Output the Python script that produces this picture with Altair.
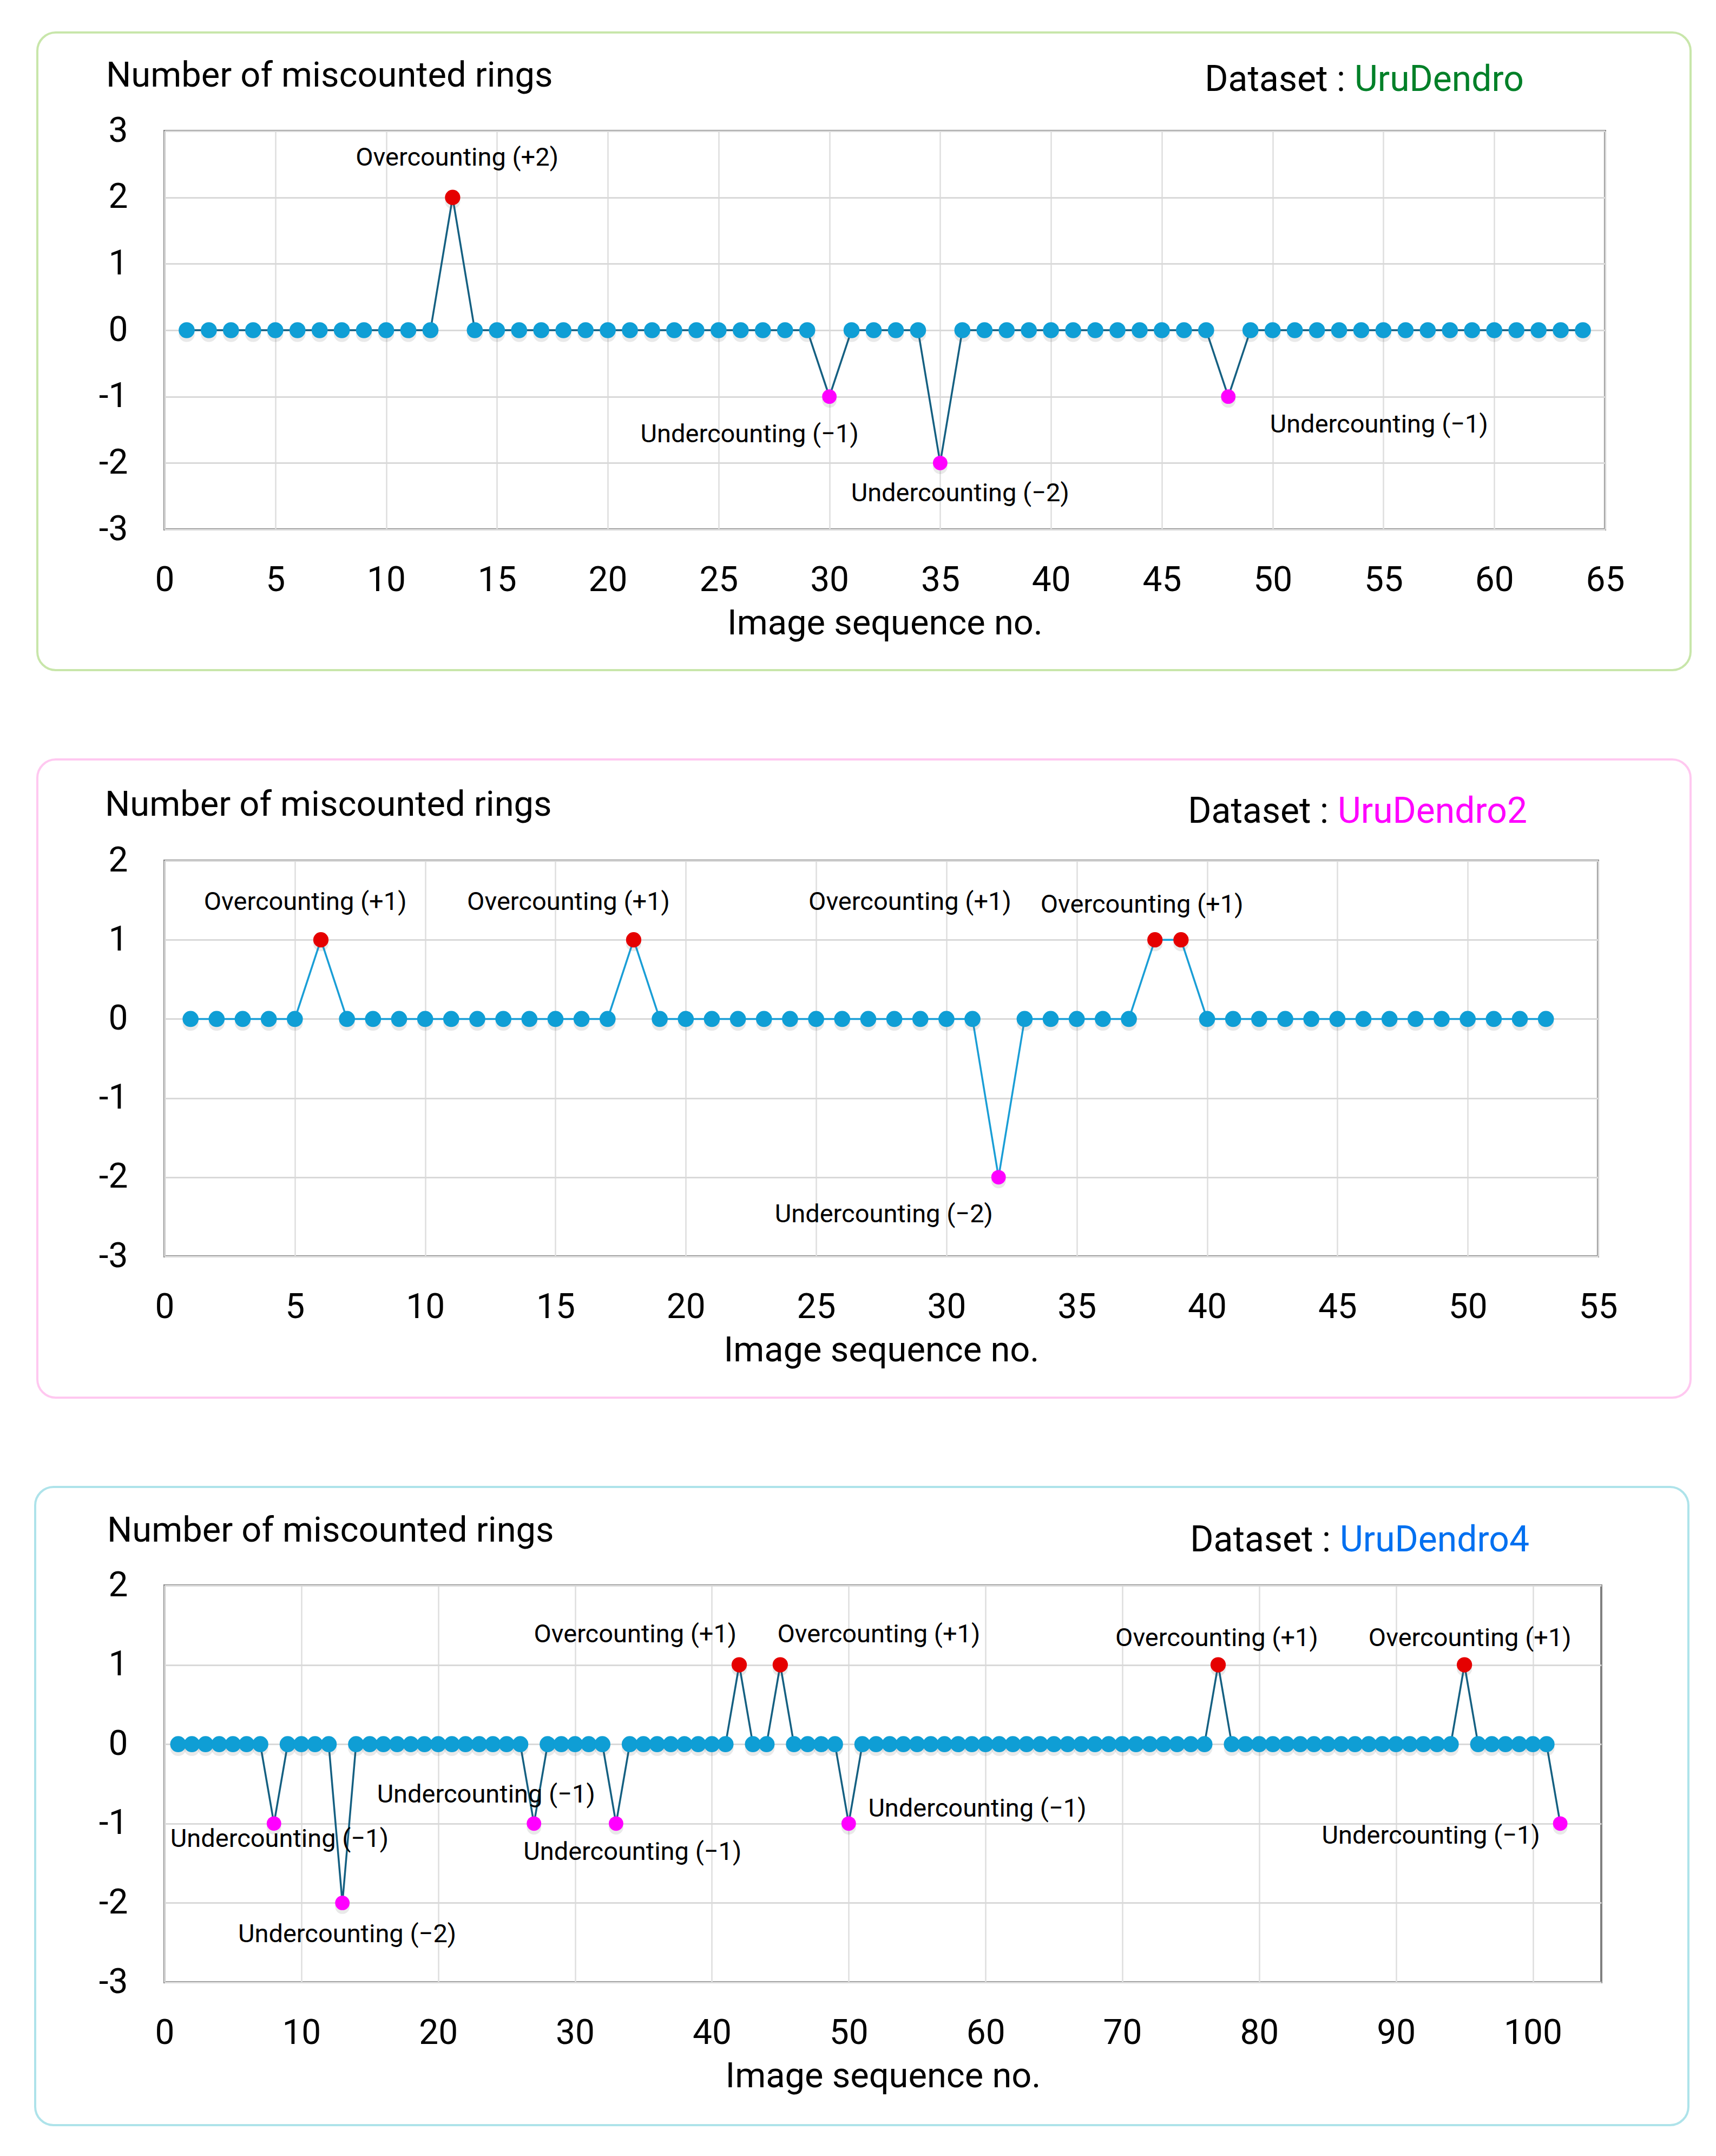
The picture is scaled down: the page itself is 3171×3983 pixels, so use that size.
import altair as alt
import pandas as pd

FONT = "Roboto"

# ---------------- data ----------------
# Panel 1 : UruDendro (images 1..64)
p1_seq = list(range(1, 65))
p1_miss = [0, 0, 0, 0, 0, 0, 0, 0, 0, 0,
           0, 0, 2, 0, 0, 0, 0, 0, 0, 0,
           0, 0, 0, 0, 0, 0, 0, 0, 0, -1,
           0, 0, 0, 0, -2, 0, 0, 0, 0, 0,
           0, 0, 0, 0, 0, 0, 0, -1, 0, 0,
           0, 0, 0, 0, 0, 0, 0, 0, 0, 0,
           0, 0, 0, 0]
p1_ann_text = ["Overcounting (+2)", "Undercounting (\u22121)", "Undercounting (\u22122)", "Undercounting (\u22121)"]
p1_ann_x = [13.2, 26.4, 35.9, 54.8]
p1_ann_y = [2.59, -1.57, -2.46, -1.43]

# Panel 2 : UruDendro2 (images 1..53)
p2_seq = list(range(1, 54))
p2_miss = [0, 0, 0, 0, 0, 1, 0, 0, 0, 0,
           0, 0, 0, 0, 0, 0, 0, 1, 0, 0,
           0, 0, 0, 0, 0, 0, 0, 0, 0, 0,
           0, -2, 0, 0, 0, 0, 0, 1, 1, 0,
           0, 0, 0, 0, 0, 0, 0, 0, 0, 0,
           0, 0, 0]
p2_ann_text = ["Overcounting (+1)", "Overcounting (+1)", "Overcounting (+1)", "Overcounting (+1)", "Undercounting (\u22122)"]
p2_ann_x = [5.4, 15.5, 28.6, 37.5, 27.6]
p2_ann_y = [1.47, 1.47, 1.47, 1.44, -2.47]

# Panel 3 : UruDendro4 (images 1..102)
p3_seq = list(range(1, 103))
p3_miss = [0, 0, 0, 0, 0, 0, 0, -1, 0, 0,
           0, 0, -2, 0, 0, 0, 0, 0, 0, 0,
           0, 0, 0, 0, 0, 0, -1, 0, 0, 0,
           0, 0, -1, 0, 0, 0, 0, 0, 0, 0,
           0, 1, 0, 0, 1, 0, 0, 0, 0, -1,
           0, 0, 0, 0, 0, 0, 0, 0, 0, 0,
           0, 0, 0, 0, 0, 0, 0, 0, 0, 0,
           0, 0, 0, 0, 0, 0, 1, 0, 0, 0,
           0, 0, 0, 0, 0, 0, 0, 0, 0, 0,
           0, 0, 0, 0, 1, 0, 0, 0, 0, 0,
           0, -1]
p3_ann_text = ["Overcounting (+1)", "Overcounting (+1)", "Overcounting (+1)", "Overcounting (+1)",
               "Undercounting (\u22121)", "Undercounting (\u22122)", "Undercounting (\u22121)",
               "Undercounting (\u22121)", "Undercounting (\u22121)", "Undercounting (\u22121)"]
p3_ann_x = [34.4, 52.2, 76.9, 95.4, 8.4, 13.35, 23.5, 34.2, 59.4, 92.55]
p3_ann_y = [1.38, 1.38, 1.33, 1.33, -1.20, -2.40, -0.64, -1.36, -0.82, -1.16]

BLUE = "#0f9ed5"
RED = "#e50000"
MAGENTA = "#ff00ff"


def panel(seq, miss, ann_text, ann_x, ann_y, xmax, xticks, ymin, ymax, W, H,
          box_color, box_l, box_r, box_t, box_b,
          title_xy, name, name_color, name_x, name_y,
          line_color, pt_size, hi_size):
    df = pd.DataFrame({"seq": seq, "miss": miss})
    df["kind"] = ["over" if v > 0 else ("under" if v < 0 else "zero") for v in miss]
    xscale = alt.Scale(domain=[0, xmax], nice=False, zero=False)
    yscale = alt.Scale(domain=[ymin, ymax], nice=False, zero=False)
    xenc = alt.X("seq:Q", scale=xscale,
                 axis=alt.Axis(values=xticks, title="Image sequence no.", grid=True,
                               gridColor="#dedede", gridWidth=2.5, labelFlush=False,
                               labelOverlap=False))
    yenc = alt.Y("miss:Q", scale=yscale,
                 axis=alt.Axis(values=list(range(ymin, ymax + 1)), title=None, grid=True,
                               labelExpr="datum.value + ''"))

    one = pd.DataFrame({"a": [0]})
    box = alt.Chart(one).mark_rect(fillOpacity=0, stroke=box_color, strokeWidth=4,
                                   cornerRadius=34).encode(
        x=alt.value(box_l), x2=alt.value(W + box_r),
        y=alt.value(box_t), y2=alt.value(H + box_b))

    title = alt.Chart(pd.DataFrame({"t": ["Number of miscounted rings"]})).mark_text(
        align="left", baseline="alphabetic", font=FONT, fontSize=65, color="black").encode(
        x=alt.value(title_xy[0]), y=alt.value(title_xy[1]), text="t:N")

    ds1 = alt.Chart(pd.DataFrame({"t": ["Dataset :"]})).mark_text(
        align="right", baseline="alphabetic", font=FONT, fontSize=66, color="black").encode(
        x=alt.value(name_x - 17), y=alt.value(name_y), text="t:N")
    ds2 = alt.Chart(pd.DataFrame({"t": [name]})).mark_text(
        align="left", baseline="alphabetic", font=FONT, fontSize=66, color=name_color).encode(
        x=alt.value(name_x), y=alt.value(name_y), text="t:N")

    base = alt.Chart(df)
    line = base.mark_line(color=line_color, strokeWidth=3.5).encode(x=xenc, y=yenc)
    shadow = base.mark_circle(color="#555555", opacity=0.13, yOffset=7).encode(
        x=alt.X("seq:Q", scale=xscale), y=alt.Y("miss:Q", scale=yscale),
        size=alt.Size("kind:N", scale=alt.Scale(domain=["zero", "over", "under"],
                                                 range=[pt_size, hi_size, hi_size]), legend=None))
    pts = base.mark_circle(opacity=1).encode(
        x=alt.X("seq:Q", scale=xscale), y=alt.Y("miss:Q", scale=yscale),
        color=alt.Color("kind:N", scale=alt.Scale(domain=["zero", "over", "under"],
                                                   range=[BLUE, RED, MAGENTA]), legend=None),
        size=alt.Size("kind:N", scale=alt.Scale(domain=["zero", "over", "under"],
                                                 range=[pt_size, hi_size, hi_size]), legend=None))

    adf = pd.DataFrame({"label": ann_text, "ax": ann_x, "ay": ann_y})
    ann = alt.Chart(adf).mark_text(align="center", baseline="middle", font=FONT,
                                   fontSize=47, color="black").encode(
        x=alt.X("ax:Q", scale=xscale), y=alt.Y("ay:Q", scale=yscale), text="label:N")

    return alt.layer(box, title, ds1, ds2, line, shadow, pts, ann).properties(width=W, height=H)


c1 = panel(p1_seq, p1_miss, p1_ann_text, p1_ann_x, p1_ann_y, 65, list(range(0, 66, 5)), -3, 3,
           2662, 736, "#c8e6aa", -235, 158, -182, 260,
           (-108, -82), "UruDendro", "#008028", 2199, -74,
           "#156082", 880, 720)
c2 = panel(p2_seq, p2_miss, p2_ann_text, p2_ann_x, p2_ann_y, 55, list(range(0, 56, 5)), -3, 2,
           2649, 731, "#ffc8f0", -235, 171, -187, 261,
           (-110, -83), "UruDendro2", "#ff00ff", 2168, -70,
           "#1a9ed6", 880, 720)
c3 = panel(p3_seq, p3_miss, p3_ann_text, p3_ann_x, p3_ann_y, 105, list(range(0, 101, 10)), -3, 2,
           2655, 733, "#aee3ea", -239, 161, -182, 264,
           (-106, -81), "UruDendro4", "#0070f0", 2172, -63,
           "#156082", 540, 440)

chart = alt.vconcat(c1, c2, c3, spacing=157).properties(
    padding={"left": 53, "top": 48, "right": 5, "bottom": 5}
).configure_view(
    stroke="#808080", strokeWidth=4
).configure_axis(
    labelFont=FONT, labelFontSize=64, labelColor="black",
    titleFont=FONT, titleFontSize=65, titleFontWeight="normal", titleColor="black",
    domain=False, ticks=False, tickSize=0, gridColor="#d9d9d9", gridWidth=3
).configure_axisX(
    labelPadding=62, titlePadding=16
).configure_axisY(
    labelPadding=68
)

chart.save("out.html", embed_options={"renderer": "svg", "actions": False})
